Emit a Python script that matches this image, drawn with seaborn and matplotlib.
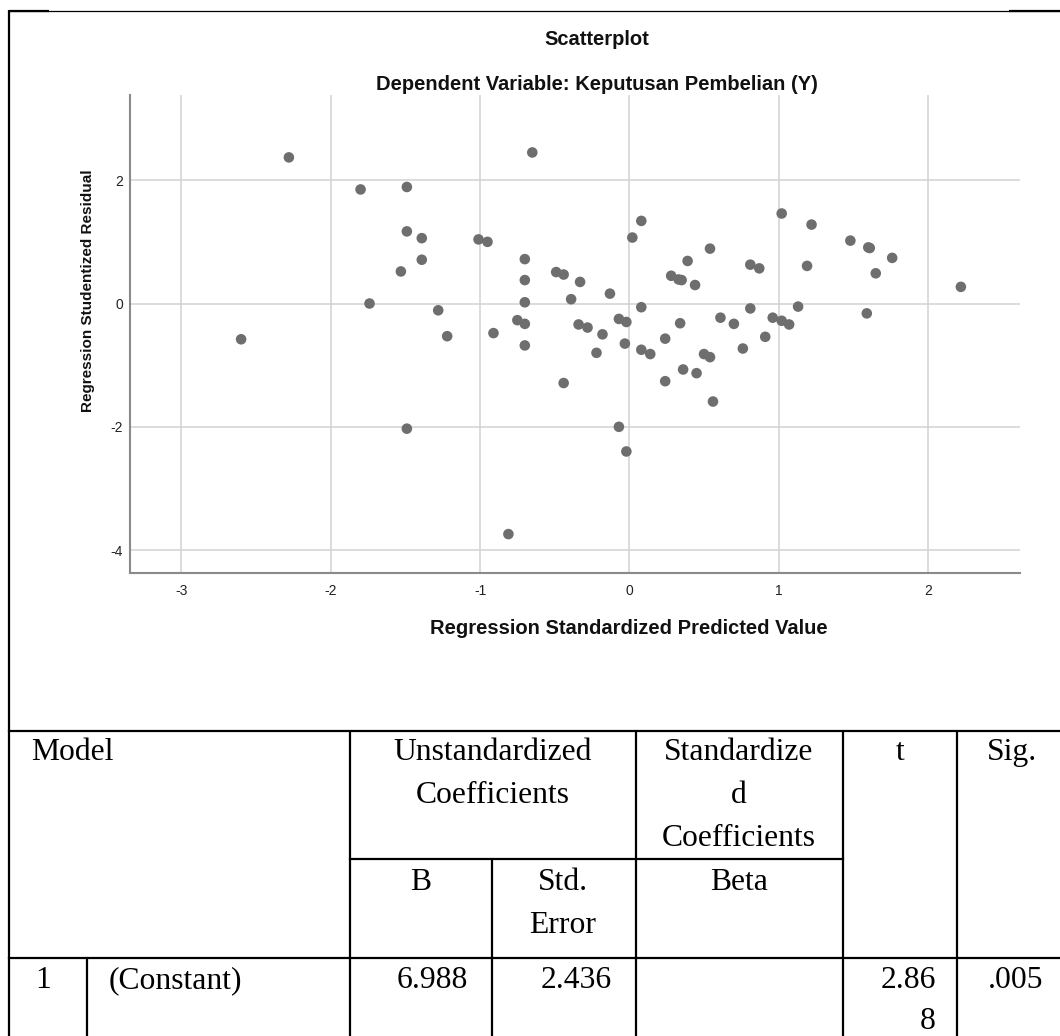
import matplotlib
matplotlib.use("Agg")
import matplotlib.pyplot as plt
import seaborn as sns
import pandas as pd

# ---------------- data ----------------
pred_value = [-2.28, -2.60, -1.80, -1.49, -1.49, -1.39, -1.39, -1.53, -1.74, -1.28,
              -1.22, -1.01, -0.95, -0.91, -0.65, -0.70, -0.70, -0.70, -0.75, -0.70,
              -0.70, -1.49, -0.81,
              -0.49, -0.44, -0.33, -0.39, -0.13, -0.34, -0.28, -0.18, -0.22, -0.07,
              -0.02, -0.03, -0.44, 0.02, 0.08, 0.08, 0.08, 0.14, 0.24, 0.24,
              0.28, 0.35, 0.33, 0.39, 0.44, 0.34, 0.36, 0.45, 0.50, 0.54,
              0.54, 0.61, 0.70, 0.76, 0.81, 0.87, 0.81, 0.91, 0.96, 1.02,
              1.07, 1.02, 1.13, 1.19, 1.22, 1.48, 1.60, 1.61, 1.65, 1.76,
              1.59, 2.22, 0.56, -0.07, -0.02]
stud_resid = [2.37, -0.58, 1.85, 1.89, 1.17, 1.06, 0.71, 0.52, 0.00, -0.11,
              -0.53, 1.04, 1.00, -0.48, 2.45, 0.72, 0.38, 0.02, -0.27, -0.33,
              -0.68, -2.03, -3.74,
              0.51, 0.47, 0.35, 0.07, 0.16, -0.34, -0.39, -0.50, -0.80, -0.25,
              -0.30, -0.65, -1.29, 1.07, 1.34, -0.06, -0.75, -0.82, -0.57, -1.26,
              0.45, 0.38, 0.39, 0.69, 0.30, -0.32, -1.07, -1.13, -0.82, -0.87,
              0.89, -0.23, -0.33, -0.73, 0.63, 0.57, -0.08, -0.54, -0.23, -0.28,
              -0.34, 1.46, -0.05, 0.61, 1.28, 1.02, 0.91, 0.90, 0.49, 0.74,
              -0.16, 0.27, -1.59, -2.00, -2.40]
x_ticks = [-3, -2, -1, 0, 1, 2]
y_ticks = [-4, -2, 0, 2]

title = "Scatterplot"
subtitle = "Dependent Variable: Keputusan Pembelian (Y)"
xlabel = "Regression Standardized Predicted Value"
ylabel = "Regression Studentized Residual"

header_model = "Model"
header_unstd = ["Unstandardized", "Coefficients"]
header_std = ["Standardize", "d", "Coefficients"]
header_t = "t"
header_sig = "Sig."
sub_b = "B"
sub_se = ["Std.", "Error"]
sub_beta = "Beta"
row_model = "1"
row_name = "(Constant)"
row_b = "6.988"
row_se = "2.436"
row_t = ["2.86", "8"]
row_sig = ".005"

# ---------------- figure ----------------
sns.set_theme(style="white")
plt.rcParams["font.family"] = ["Liberation Sans", "DejaVu Sans"]

W, H = 1060, 1036
fig = plt.figure(figsize=(W / 100, H / 100), dpi=100)
fig.patch.set_facecolor("white")

# overlay in pixel coordinates for frame, titles and table
ov = fig.add_axes([0, 0, 1, 1])
ov.set_xlim(0, W)
ov.set_ylim(H, 0)
ov.axis("off")

L, R, T, B = 130, 1020, 95, 573.3
ax = fig.add_axes([L / W, 1 - B / H, (R - L) / W, (B - T) / H])
df = pd.DataFrame({"pred": pred_value, "resid": stud_resid})
sns.scatterplot(data=df, x="pred", y="resid", ax=ax, color="#6e6e6e",
                s=58, edgecolor="none", linewidth=0, zorder=3, legend=False)
ax.set_xlim(-3.344, 2.616)
ax.set_ylim(-4.376, 3.382)
ax.set_xticks(x_ticks)
ax.set_yticks(y_ticks)
ax.set_xticklabels([str(v) for v in x_ticks])
ax.set_yticklabels([str(v) for v in y_ticks])
ax.grid(True, color="#d2d2d2", lw=1.1)
ax.set_axisbelow(True)
for s in ["top", "right"]:
    ax.spines[s].set_visible(False)
for s in ["left", "bottom"]:
    ax.spines[s].set_color("#8a8a8a")
    ax.spines[s].set_linewidth(1.5)
ax.tick_params(axis="y", length=0, labelsize=10, pad=5, colors="#222222")
ax.tick_params(axis="x", length=0, labelsize=10, pad=7.5, colors="#222222")
ax.set_xlabel("")
ax.set_ylabel("")
ax.set_facecolor("white")

# titles and axis labels
ov.text(597, 45, title, ha="center", va="baseline", fontsize=14.5, fontweight="bold", color="#111111")
ov.text(597, 90, subtitle, ha="center", va="baseline", fontsize=14.5, fontweight="bold", color="#111111")
ov.text(629, 634, xlabel, ha="center", va="baseline", fontsize=14.5, fontweight="bold", color="#111111")
ov.text(88, 291, ylabel, ha="center", va="center", rotation=90, fontsize=11, fontweight="bold", color="#111111")

# outer frame
lw_t = 1.6
ov.plot([9.3, W], [10.7, 10.7], color="black", lw=0.9, solid_capstyle="butt")
ov.plot([9.3, 49], [10.7, 10.7], color="black", lw=lw_t, solid_capstyle="butt")
ov.plot([1009, W], [10.7, 10.7], color="black", lw=lw_t, solid_capstyle="butt")
ov.plot([9.3, 9.3], [10, H], color="black", lw=lw_t, solid_capstyle="butt")

# table lines
ov.plot([9.3, W], [731, 731], color="black", lw=lw_t, solid_capstyle="projecting")
ov.plot([350, 843], [859, 859], color="black", lw=lw_t, solid_capstyle="projecting")
ov.plot([9.3, W], [958, 958], color="black", lw=lw_t, solid_capstyle="projecting")
for xv in [350, 635.6, 843, 956.7]:
    ov.plot([xv, xv], [731, H], color="black", lw=lw_t, solid_capstyle="butt")
ov.plot([492, 492], [859, H], color="black", lw=lw_t, solid_capstyle="butt")
ov.plot([86.5, 86.5], [958, H], color="black", lw=lw_t, solid_capstyle="butt")

# table text
serif = ["Liberation Serif", "DejaVu Serif"]
fs = 22.8
kw = dict(va="baseline", fontsize=fs, family=serif, color="black")
ov.text(31, 760, header_model, ha="left", **kw)
for i, s in enumerate(header_unstd):
    ov.text(493, 760 + 43 * i, s, ha="center", **kw)
for i, s in enumerate(header_std):
    ov.text(739, 760 + 43 * i, s, ha="center", **kw)
ov.text(900, 760, header_t, ha="center", **kw)
ov.text(1012, 760, header_sig, ha="center", **kw)
ov.text(421, 890, sub_b, ha="center", **kw)
for i, s in enumerate(sub_se):
    ov.text(563, 890 + 43 * i, s, ha="center", **kw)
ov.text(739, 890, sub_beta, ha="center", **kw)
ov.text(35, 988, row_model, ha="left", **kw)
ov.text(109, 988, row_name, ha="left", **kw)
ov.text(468, 988, row_b, ha="right", **kw)
ov.text(612, 988, row_se, ha="right", **kw)
ov.text(936, 988, row_t[0], ha="right", **kw)
ov.text(936, 1029, row_t[1], ha="right", **kw)
ov.text(1043, 988, row_sig, ha="right", **kw)

fig.savefig("out.png", dpi=100, facecolor="white")
